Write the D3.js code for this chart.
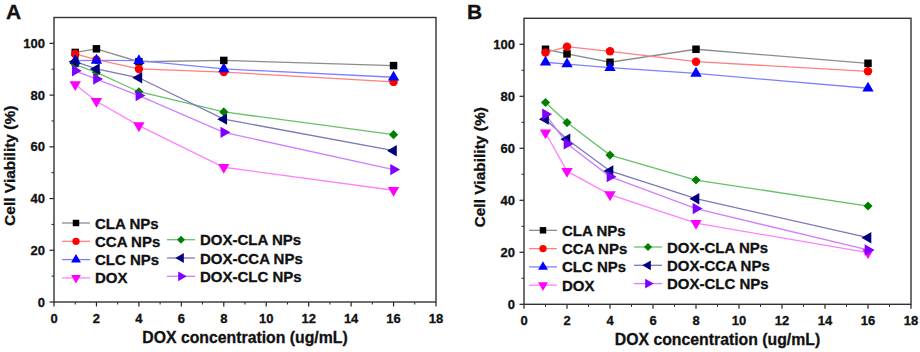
<!DOCTYPE html>
<html>
<head>
<meta charset="utf-8">
<script src="https://cdn.jsdelivr.net/npm/d3@7"></script>
<style>
body { margin: 0; background: #fff; }
svg text { font-family: "Liberation Sans", Arial, sans-serif; font-weight: bold; fill: #111; stroke: #111; stroke-width: 0.3px; }
</style>
</head>
<body>
<svg id="chart" width="920" height="352"></svg>
<script>
// x values (ug/mL)
var concentrations = [1, 2, 4, 8, 16]
var seriesNames = ['CLA NPs', 'CCA NPs', 'CLC NPs', 'DOX', 'DOX-CLA NPs', 'DOX-CCA NPs', 'DOX-CLC NPs']
var xTicks = [0, 2, 4, 6, 8, 10, 12, 14, 16, 18]
var yTicks = [0, 20, 40, 60, 80, 100]

// panel A viability (%)
var claA = [96.5, 97.9, 92.9, 93.4, 91.4]
var ccaA = [95.9, 93.7, 90.1, 88.9, 85.1]
var clcA = [93.3, 93.4, 93.3, 90.1, 86.9]
var doxA = [84.1, 77.6, 68.2, 52.1, 43.2]
var doxClaA = [91.8, 88.8, 81.3, 73.5, 64.7]
var doxCcaA = [92.9, 90.1, 86.7, 70.7, 58.5]
var doxClcA = [89.4, 86.2, 79.8, 65.6, 51.2]

// panel B viability (%)
var claB = [98.1, 96.3, 93.1, 98.1, 92.7]
var ccaB = [96.8, 99.1, 97.3, 93.3, 89.6]
var clcB = [93.1, 92.4, 91.0, 88.8, 83.1]
var doxB = [66.0, 51.2, 42.2, 31.2, 19.9]
var doxClaB = [77.6, 69.9, 57.4, 47.8, 37.8]
var doxCcaB = [71.2, 63.5, 51.3, 40.6, 25.6]
var doxClcB = [73.1, 61.7, 49.1, 36.8, 20.9]

var lineColors = ['#8c8c8c', '#ff8080', '#8080ff', '#ff80ff', '#66c266', '#7a7ab8', '#cc80ff']
var markColors = ['#000000', '#ff0000', '#0000ff', '#ff00ff', '#008000', '#000080', '#8000ff']
// symbol type + rotation
var markers = [
	[d3.symbolSquare, 0], [d3.symbolCircle, 0], [d3.symbolTriangle, 0], [d3.symbolTriangle, 180],
	[d3.symbolSquare, 45], [d3.symbolTriangle, -90], [d3.symbolTriangle, 90]
]

var svg = d3.select('#chart')

var panels = [
	{ letter: 'A', lx: 6, left: 54, right: 436, top: 17.5, bottom: 302,
		values: [claA, ccaA, clcA, doxA, doxClaA, doxCcaA, doxClcA],
		leg: { c1: 8, c2: 113, rows1: 205.5, rows2: 222.2 } },
	{ letter: 'B', lx: 467, left: 524, right: 911, top: 18.3, bottom: 304.3,
		values: [claB, ccaB, clcB, doxB, doxClaB, doxCcaB, doxClcB],
		leg: { c1: 5, c2: 110, rows1: 212, rows2: 228.7 } }
]

function markerPath(i, size) {
	return d3.symbol().type(markers[i][0]).size(size)()
}

panels.forEach(function(p) {
	var x = d3.scaleLinear().domain([0, 18]).range([p.left, p.right])
	var y = d3.scaleLinear().domain([0, 110]).range([p.bottom, p.top])
	var g = svg.append('g')

	g.append('text')
		.attr('x', p.lx).attr('y', 19)
		.style('font-size', '21px')
		.text(p.letter)

	// minor ticks
	var xMinor = d3.range(1, 18, 2)
	g.selectAll('.xminor').data(xMinor).enter().append('line')
		.attr('x1', x).attr('x2', x)
		.attr('y1', p.bottom).attr('y2', p.bottom + 2.5)
		.attr('stroke', '#222').attr('stroke-width', 1)
	var yMinor = d3.range(10, 110, 20)
	g.selectAll('.yminor').data(yMinor).enter().append('line')
		.attr('y1', y).attr('y2', y)
		.attr('x1', p.left).attr('x2', p.left - 2.5)
		.attr('stroke', '#222').attr('stroke-width', 1)

	// major ticks
	g.selectAll('.xmajor').data(xTicks).enter().append('line')
		.attr('x1', x).attr('x2', x)
		.attr('y1', p.bottom).attr('y2', p.bottom + 4.5)
		.attr('stroke', '#222').attr('stroke-width', 1.2)
	g.selectAll('.ymajor').data(yTicks).enter().append('line')
		.attr('y1', y).attr('y2', y)
		.attr('x1', p.left).attr('x2', p.left - 4.5)
		.attr('stroke', '#222').attr('stroke-width', 1.2)

	g.selectAll('.xlab').data(xTicks).enter().append('text')
		.attr('x', x).attr('y', p.bottom + 21)
		.attr('text-anchor', 'middle')
		.style('font-size', '13px')
		.text(function(d) { return d })
	g.selectAll('.ylab').data(yTicks).enter().append('text')
		.attr('x', p.left - 9).attr('y', function(d) { return y(d) + 4.5 })
		.attr('text-anchor', 'end')
		.style('font-size', '13px')
		.text(function(d) { return d })

	g.append('text')
		.attr('x', (p.left + p.right) / 2).attr('y', p.bottom + 41)
		.attr('text-anchor', 'middle')
		.style('font-size', '15.8px')
		.text('DOX concentration (ug/mL)')
	g.append('text')
		.attr('transform', 'translate(' + (p.left - 39) + ',' + ((p.top + p.bottom) / 2 + 6) + ') rotate(-90)')
		.attr('text-anchor', 'middle')
		.style('font-size', '15.5px')
		.text('Cell Viability (%)')

	// frame
	g.append('rect')
		.attr('x', p.left).attr('y', p.top)
		.attr('width', p.right - p.left).attr('height', p.bottom - p.top)
		.attr('fill', 'none').attr('stroke', '#333').attr('stroke-width', 1.4)

	var line = d3.line()
		.x(function(d, i) { return x(concentrations[i]) })
		.y(function(d) { return y(d) })

	p.values.forEach(function(vals, s) {
		g.append('path')
			.datum(vals)
			.attr('d', line)
			.attr('fill', 'none')
			.attr('stroke', lineColors[s])
			.attr('stroke-width', 1.3)
	})
	p.values.forEach(function(vals, s) {
		g.selectAll('.m' + s).data(vals).enter().append('path')
			.attr('d', markerPath(s, s == 4 ? 42 : 56))
			.attr('transform', function(d, i) {
				return 'translate(' + x(concentrations[i]) + ',' + y(d) + ') rotate(' + markers[s][1] + ')'
			})
			.attr('fill', markColors[s])
	})

	// legend
	var rowGap = 18.3
	seriesNames.forEach(function(name, s) {
		var lx, ly
		if (s < 4) {
			lx = p.left + p.leg.c1
			ly = p.top + p.leg.rows1 + s * rowGap
		} else {
			lx = p.left + p.leg.c2
			ly = p.top + p.leg.rows2 + (s - 4) * rowGap
		}
		g.append('line')
			.attr('x1', lx).attr('x2', lx + 28)
			.attr('y1', ly).attr('y2', ly)
			.attr('stroke', lineColors[s]).attr('stroke-width', 1.3)
		g.append('path')
			.attr('d', markerPath(s, s == 4 ? 32 : 42))
			.attr('transform', 'translate(' + (lx + 14) + ',' + ly + ') rotate(' + markers[s][1] + ')')
			.attr('fill', markColors[s])
		g.append('text')
			.attr('x', lx + 33).attr('y', ly + 5.5)
			.style('font-size', '15px')
			.text(name)
	})
})
</script>
</body>
</html>
